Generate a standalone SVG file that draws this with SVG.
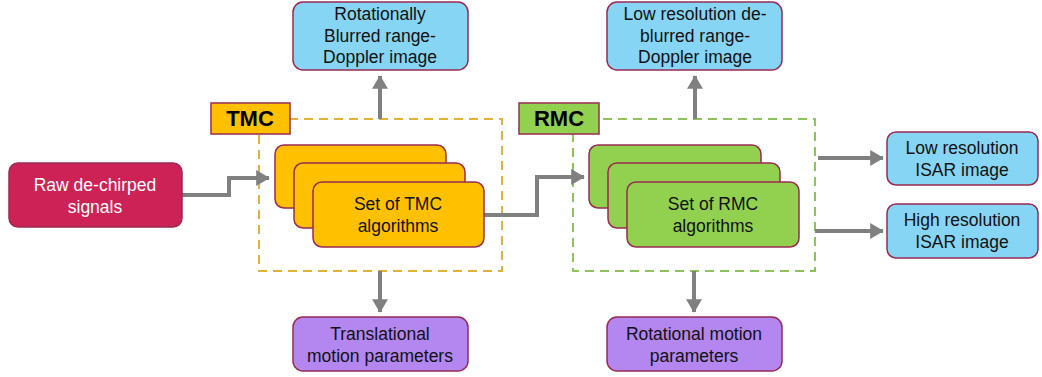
<svg xmlns="http://www.w3.org/2000/svg" width="1042" height="377" viewBox="0 0 1042 377">
  <style>
    text { font-family: "Liberation Sans", Arial, sans-serif; font-size: 17.5px; text-anchor: middle; fill: #111; }
    .box { stroke: #9B2A50; stroke-width: 1.5; }
    .raw { fill: #CC2255; }
    .out { fill: #87D5F4; }
    .par { fill: #B386F0; }
    .tmc { fill: #FFC000; }
    .rmc { fill: #92D050; }
    .lbl { font-weight: bold; font-size: 22px; fill: #000; }
    .white { fill: #fff; }
    .conn { fill: none; stroke: #808080; stroke-width: 4; }
    .dash { fill: none; stroke-width: 2; stroke-dasharray: 9 6; }
  </style>
  <defs>
    <marker id="arr" markerWidth="4" markerHeight="4" refX="3.2" refY="2" orient="auto" markerUnits="strokeWidth">
      <path d="M0,0 L3.4,2 L0,4 Z" fill="#808080"/>
    </marker>
  </defs>

  <!-- stage frames -->
  <rect x="259" y="119" width="243" height="152" class="dash" stroke="#E2B236"/>
  <rect x="573" y="119" width="242" height="152" class="dash" stroke="#8CC35A"/>

  <!-- connectors -->
  <g id="connectors">
    <path class="conn" d="M182,195 H229 V178 H269" marker-end="url(#arr)"/>
    <path class="conn" d="M484,215 H537 V177 H584" marker-end="url(#arr)"/>
    <path class="conn" d="M380,119 V76" marker-end="url(#arr)"/>
    <path class="conn" d="M695,119 V76" marker-end="url(#arr)"/>
    <path class="conn" d="M380,271 V312" marker-end="url(#arr)"/>
    <path class="conn" d="M694,271 V312" marker-end="url(#arr)"/>
    <path class="conn" d="M818,158 H883" marker-end="url(#arr)"/>
    <path class="conn" d="M815,231 H883" marker-end="url(#arr)"/>
  </g>

  <g id="raw">
    <rect x="9" y="163" width="173" height="64" rx="9" class="box raw"/>
    <text x="95" y="191" class="white">Raw de-chirped</text>
    <text x="95" y="213" class="white">signals</text>
  </g>

  <g id="tmc-label">
    <rect x="211" y="103" width="79" height="31" class="box tmc"/>
    <text x="250" y="126" class="lbl">TMC</text>
  </g>

  <g id="tmc-algorithms">
    <rect x="275" y="145" width="171" height="63" rx="9" class="box tmc"/>
    <rect x="294" y="163" width="171" height="65" rx="9" class="box tmc"/>
    <rect x="313" y="182" width="171" height="65" rx="9" class="box tmc"/>
    <text x="398" y="210">Set of TMC</text>
    <text x="398" y="232">algorithms</text>
  </g>

  <g id="blurred-image">
    <rect x="293" y="2" width="175" height="68" rx="10" class="box out"/>
    <text x="380" y="20">Rotationally</text>
    <text x="380" y="42">Blurred range-</text>
    <text x="380" y="63">Doppler image</text>
  </g>

  <g id="translational-params">
    <rect x="293" y="317" width="175" height="54" rx="10" class="box par"/>
    <text x="380" y="340">Translational</text>
    <text x="380" y="362">motion parameters</text>
  </g>

  <g id="rmc-label">
    <rect x="519" y="103" width="80" height="31" class="box rmc"/>
    <text x="559" y="126" class="lbl">RMC</text>
  </g>

  <g id="rmc-algorithms">
    <rect x="589" y="145" width="172" height="63" rx="9" class="box rmc"/>
    <rect x="608" y="163" width="172" height="65" rx="9" class="box rmc"/>
    <rect x="627" y="182" width="172" height="65" rx="9" class="box rmc"/>
    <text x="713" y="210">Set of RMC</text>
    <text x="713" y="232">algorithms</text>
  </g>

  <g id="deblurred-image">
    <rect x="607" y="2" width="175" height="68" rx="10" class="box out"/>
    <text x="695" y="20">Low resolution de-</text>
    <text x="695" y="42">blurred range-</text>
    <text x="695" y="63">Doppler image</text>
  </g>

  <g id="rotational-params">
    <rect x="607" y="317" width="175" height="54" rx="10" class="box par"/>
    <text x="694" y="340">Rotational motion</text>
    <text x="694" y="362">parameters</text>
  </g>

  <g id="low-res-isar">
    <rect x="887" y="132" width="151" height="53" rx="9" class="box out"/>
    <text x="962" y="154">Low resolution</text>
    <text x="962" y="176">ISAR image</text>
  </g>

  <g id="high-res-isar">
    <rect x="887" y="204" width="151" height="54" rx="9" class="box out"/>
    <text x="962" y="226">High resolution</text>
    <text x="962" y="248">ISAR image</text>
  </g>
</svg>
